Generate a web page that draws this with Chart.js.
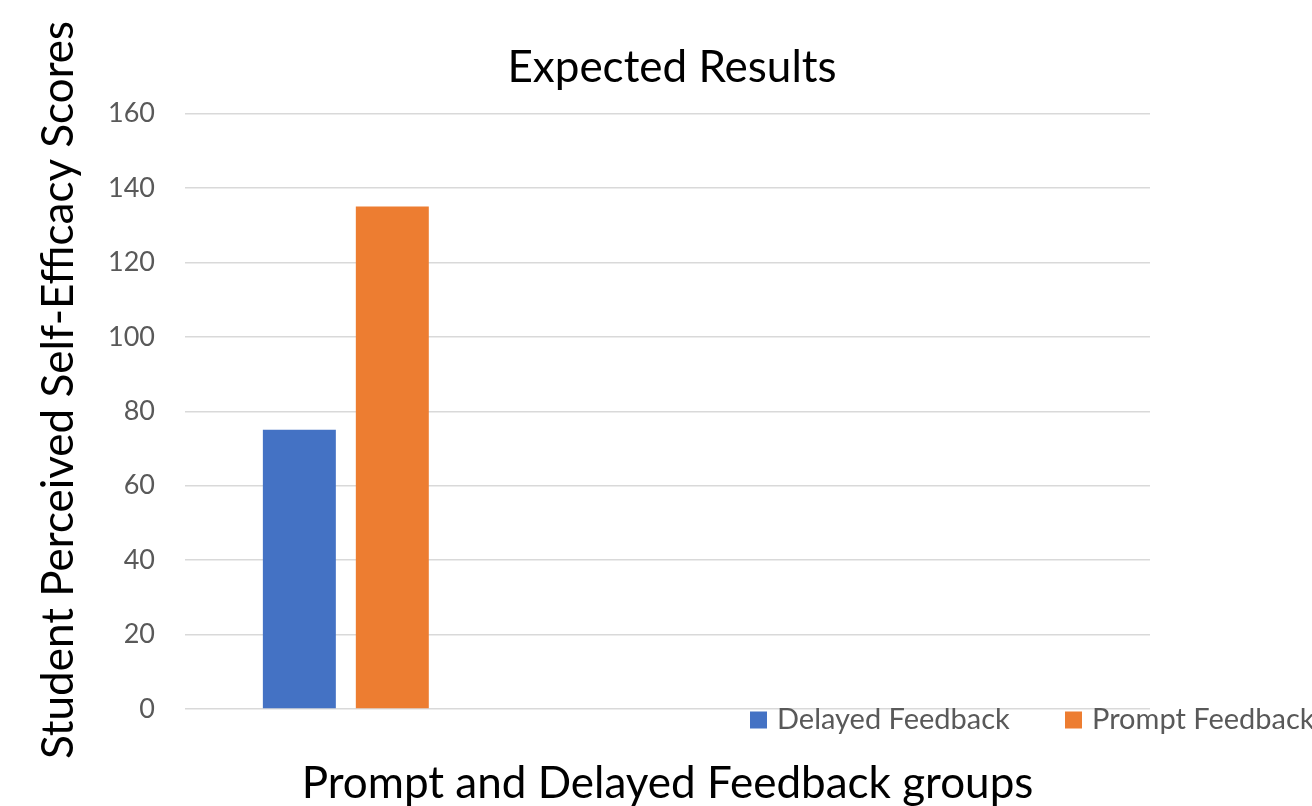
<!DOCTYPE html>
<html>
<head>
<meta charset="utf-8">
<script src="https://cdn.jsdelivr.net/npm/chart.js@4"></script>
<style>
html,body{margin:0;padding:0;background:#fff;}
#wrap{width:1312px;height:806px;position:relative;}
</style>
</head>
<body>
<div id="wrap"><canvas id="c" width="1312" height="806"></canvas></div>
<script>
const chartTitle = 'Expected Results';
const xAxisTitle = 'Prompt and Delayed Feedback groups';
const yAxisTitle = 'Student Perceived Self-Efficacy Scores';
const categories = ['', '', ''];
const seriesNames = ['Delayed Feedback', 'Prompt Feedback'];
const delayedValues = [75, null, null];
const promptValues = [135, null, null];
const yTicks = [0, 20, 40, 60, 80, 100, 120, 140, 160];

const FONT = 'Lato, Carlito, Calibri, "Open Sans", sans-serif';
const colors = ['#4472C4', '#ED7D31'];

const legendPlugin = {
  id: 'customLegend',
  afterDraw(chart) {
    const ctx = chart.ctx;
    const starts = [750, 1065];
    const y = 720;
    ctx.save();
    ctx.font = '29px ' + FONT;
    ctx.textBaseline = 'middle';
    ctx.textAlign = 'left';
    chart.data.datasets.forEach((ds, i) => {
      ctx.fillStyle = ds.backgroundColor;
      ctx.fillRect(starts[i], y - 8.5, 17, 17);
      ctx.fillStyle = '#595959';
      ctx.fillText(ds.label, starts[i] + 27, y);
    });
    ctx.restore();
  }
};

const yTitlePlugin = {
  id: 'yTitle',
  afterDraw(chart) {
    const ctx = chart.ctx;
    ctx.save();
    ctx.translate(73, 390);
    ctx.rotate(-Math.PI / 2);
    ctx.font = '44px ' + FONT;
    ctx.fillStyle = '#000000';
    ctx.textAlign = 'center';
    ctx.textBaseline = 'alphabetic';
    ctx.fillText(yAxisTitle, 0, 0);
    ctx.restore();
  }
};

new Chart(document.getElementById('c'), {
  type: 'bar',
  data: {
    labels: categories,
    datasets: [
      { label: seriesNames[0], data: delayedValues, backgroundColor: colors[0] },
      { label: seriesNames[1], data: promptValues, backgroundColor: colors[1] }
    ]
  },
  options: {
    responsive: false,
    animation: false,
    devicePixelRatio: 1,
    categoryPercentage: 0.578,
    barPercentage: 0.785,
    layout: { padding: { left: 32, right: 0, top: 0, bottom: 0 } },
    plugins: {
      legend: { display: false },
      tooltip: { enabled: false },
      title: {
        display: true,
        text: chartTitle,
        color: '#000000',
        font: { family: FONT, size: 44, weight: 'normal', lineHeight: 1.2 },
        padding: { top: 41, bottom: 19.7 }
      }
    },
    scales: {
      x: {
        grid: { display: false, drawTicks: false },
        border: { display: false },
        ticks: { display: false },
        title: {
          display: true,
          text: xAxisTitle,
          color: '#000000',
          font: { family: FONT, size: 44, weight: 'normal', lineHeight: 1.0 },
          padding: { top: 0, bottom: 0 }
        },
        afterFit(s) { s.height = 97; }
      },
      y: {
        min: yTicks[0],
        max: yTicks[yTicks.length - 1],
        afterBuildTicks(s) { s.ticks = yTicks.map(v => ({ value: v })); },
        grid: { color: '#D9D9D9', lineWidth: 1.5, drawTicks: false },
        border: { display: false },
        ticks: {
          color: '#595959',
          padding: 30,
          font: { family: FONT, size: 27 }
        },
        afterFit(s) { s.width = 153; }
      },
      yRight: {
        position: 'right',
        display: true,
        grid: { display: false, drawTicks: false },
        border: { display: false },
        ticks: { display: false },
        afterFit(s) { s.width = 162; }
      }
    }
  },
  plugins: [legendPlugin, yTitlePlugin]
});
</script>
</body>
</html>
